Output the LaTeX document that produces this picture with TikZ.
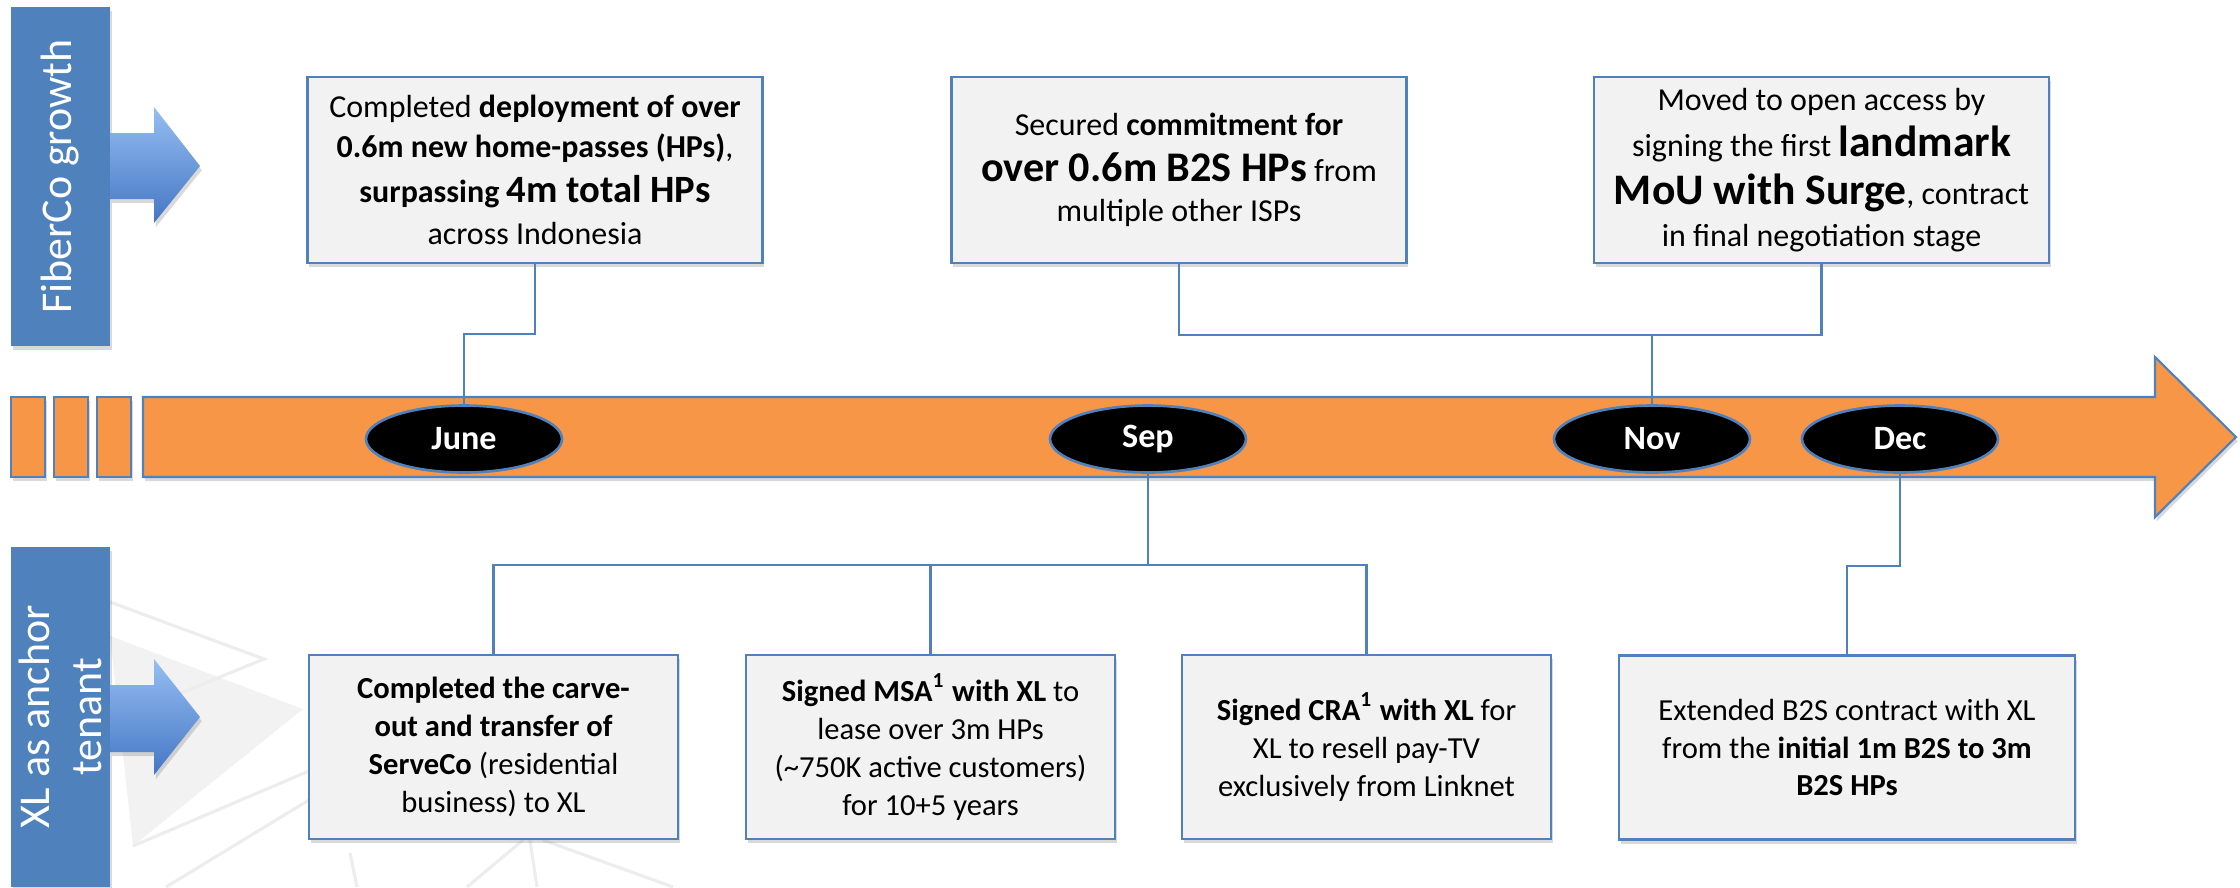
\documentclass[tikz,border=0pt]{standalone}
\usepackage{fontspec}
\setmainfont{Carlito}
\usetikzlibrary{shapes.geometric,shadows}
\definecolor{xlblue}{RGB}{79,129,189}
\definecolor{tlorange}{RGB}{247,150,70}
\definecolor{boxgrey}{RGB}{242,242,242}
\definecolor{arrowtop}{RGB}{150,190,242}
\definecolor{arrowbot}{RGB}{68,118,196}

\begin{document}
\begin{tikzpicture}[x=0.1mm,y=-0.1mm,
  shade/.style={drop shadow={opacity=0.3,shadow xshift=0.5pt,shadow yshift=-1.2pt}},
  event/.style={draw=xlblue,line width=0.75pt,fill=boxgrey,align=center,inner sep=2pt,shade},
  topbox/.style={event,minimum width=4.55cm,minimum height=1.86cm,font=\fontsize{9.1}{11.4}\selectfont},
  botbox/.style={event,minimum width=3.69cm,minimum height=1.84cm,font=\fontsize{8.7}{10.8}\selectfont},
  month/.style={ellipse,draw=xlblue,line width=0.75pt,fill=black,text=white,font=\fontsize{9.7}{9.7}\selectfont\bfseries,minimum width=1.96cm,minimum height=0.67cm,inner sep=0pt},
  sidetag/.style={fill=xlblue,text=white,align=center,rotate=90,inner sep=0pt,minimum height=0.99cm,shade},
  tlbox/.style={fill=tlorange,draw=xlblue,line width=0.6pt,shade},
  conn/.style={draw=xlblue,line width=0.6pt},
  logo/.style={draw=black!7,line width=0.9pt}]
\useasboundingbox (0,0) rectangle (2240,887);

% faint background logo
\fill[black!5] (110,636) -- (303,709) -- (133,846) -- cycle;
\draw[logo] (110,602) -- (264,659) -- (110,722);
\draw[logo] (133,846) -- (309,771);
\draw[logo] (166,887) -- (309,800);
\draw[logo] (350,853) -- (357,887);
\draw[logo] (523,840) -- (467,887);
\draw[logo] (530,840) -- (537,887);
\draw[logo] (543,840) -- (673,887);

% side tags
\node[sidetag,minimum width=3.39cm,font=\fontsize{12.5}{14.8}\selectfont] (fib) at (60.5,176.5) {FiberCo growth};
\node[sidetag,minimum width=3.40cm,font=\fontsize{12.5}{14.8}\selectfont] (xl) at (60.5,717) {XL as anchor\\tenant};
\shade[top color=arrowtop,bottom color=arrowbot] (110,133) -- (154,133) -- (154,107) -- (200,166) -- (154,223) -- (154,199) -- (110,199) -- cycle;
\shade[top color=arrowtop,bottom color=arrowbot] (110,685) -- (154,685) -- (154,659) -- (200,717) -- (154,775) -- (154,752) -- (110,752) -- cycle;

% timeline
\draw[tlbox] (11,397) rectangle (45,477);
\draw[tlbox] (54,397) rectangle (88,477);
\draw[tlbox] (97,397) rectangle (131,477);
\draw[tlbox] (143,397) -- (2155,397) -- (2155,357) -- (2236,437) -- (2155,517) -- (2155,477) -- (143,477) -- cycle;

\node[month] (jun) at (464,439) {June};
\node[month] (sep) at (1148,439) {Sep};
\node[month] (nov) at (1652,439) {Nov};
\node[month] (dec) at (1900,439) {Dec};

% fiberco events
\node[topbox] (t1) at (535,170) {Completed \textbf{deployment of over}\\ \textbf{0.6m new home-passes (HPs)},\\[1.4pt] \textbf{surpassing {\fontsize{11}{12}\selectfont 4m total HPs}}\\[0.4pt] across Indonesia};
\node[topbox] (t2) at (1179,170) {Secured \textbf{commitment for}\\[1.6pt] {\fontsize{12}{12}\selectfont\bfseries over 0.6m B2S HPs} from\\[0.2pt] multiple other ISPs};
\node[topbox] (t3) at (1821.5,170) {Moved to open access by\\[1.6pt] signing the first {\fontsize{12.4}{12}\selectfont\bfseries landmark}\\[2.4pt] {\fontsize{12.4}{12}\selectfont\bfseries MoU with Surge}, contract\\[0.4pt] in final negotiation stage};

% xl events
\node[botbox] (b1) at (493.5,747) {\textbf{Completed the carve-}\\ \textbf{out and transfer of}\\ \textbf{ServeCo} (residential\\ business) to XL};
\node[botbox] (b2) at (930.5,747) {\textbf{Signed MSA\textsuperscript{1} with XL} to\\ lease over 3m HPs\\ (\textasciitilde 750K active customers)\\ for 10+5 years};
\node[botbox] (b3) at (1366.5,747) {\textbf{Signed CRA\textsuperscript{1} with XL} for\\ XL to resell pay-TV\\ exclusively from Linknet};
\node[botbox,minimum width=4.56cm] (b4) at (1847,747.5) {Extended B2S contract with XL\\ from the \textbf{initial 1m B2S to 3m}\\ \textbf{B2S HPs}};

\path[conn] (t1.south) -- ++(0,70) -| (jun.north);
\path[conn] (t2.south) -- ++(0,71) -| (nov.north);
\path[conn] (t3.south) -- ++(0,71) -| (nov.north);
\path[conn] (sep.south) -- ++(0,91) -| (b1.north);
\path[conn] (sep.south) -- ++(0,91) -| (b2.north);
\path[conn] (sep.south) -- ++(0,91) -| (b3.north);
\path[conn] (dec.south) -- ++(0,92) -| (b4.north);
\end{tikzpicture}
\end{document}
